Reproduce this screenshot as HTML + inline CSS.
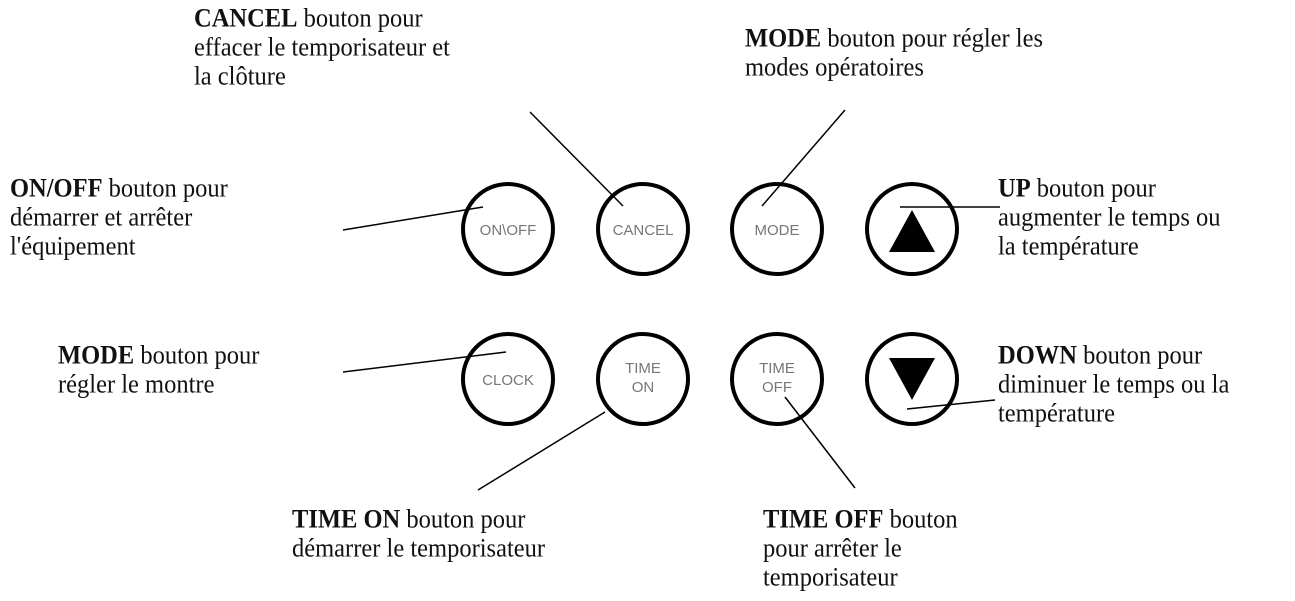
<!DOCTYPE html>
<html><head><meta charset="utf-8"><style>
html,body{margin:0;padding:0;background:#fff;}
body{width:1295px;height:601px;position:relative;overflow:hidden;font-family:"Liberation Serif",serif;color:#111;}
.t{position:absolute;font-size:24.5px;line-height:27px;white-space:nowrap;transform:scaleY(1.07);transform-origin:top left;}
.t b{font-weight:bold;}
svg{position:absolute;left:0;top:0;}
.bl{font-family:"Liberation Sans",sans-serif;font-size:15px;fill:#777;text-anchor:middle;}
</style></head><body>
<svg width="1295" height="601">
<g fill="none" stroke="#000" stroke-width="4">
<circle cx="508" cy="229" r="45"/><circle cx="643" cy="229" r="45"/><circle cx="777" cy="229" r="45"/><circle cx="912" cy="229" r="45"/>
<circle cx="508" cy="379" r="45"/><circle cx="643" cy="379" r="45"/><circle cx="777" cy="379" r="45"/><circle cx="912" cy="379" r="45"/>
</g>
<polygon points="912,210 889,252 935,252" fill="#000"/>
<polygon points="889,358 935,358 912,400" fill="#000"/>
<text class="bl" x="508" y="235">ON\OFF</text>
<text class="bl" x="643" y="235">CANCEL</text>
<text class="bl" x="777" y="235">MODE</text>
<text class="bl" x="508" y="385">CLOCK</text>
<text class="bl" x="643" y="373">TIME</text><text class="bl" x="643" y="392">ON</text>
<text class="bl" x="777" y="373">TIME</text><text class="bl" x="777" y="392">OFF</text>
<g stroke="#000" stroke-width="1.5">
<line x1="343" y1="230" x2="483" y2="207"/>
<line x1="530" y1="112" x2="623" y2="206"/>
<line x1="845" y1="110" x2="762" y2="206"/>
<line x1="900" y1="207" x2="1000" y2="207"/>
<line x1="343" y1="372" x2="506" y2="352"/>
<line x1="605" y1="412" x2="478" y2="490"/>
<line x1="785" y1="397" x2="855" y2="488"/>
<line x1="907" y1="409" x2="995" y2="400"/>
</g>
</svg>
<div class="t" style="left:194px;top:4px"><b>CANCEL</b> bouton pour<br>effacer le temporisateur et<br>la clôture</div>
<div class="t" style="left:745px;top:24px"><b>MODE</b> bouton pour régler les<br>modes opératoires</div>
<div class="t" style="left:10px;top:174px"><b>ON/OFF</b> bouton pour<br>démarrer et arrêter<br>l'équipement</div>
<div class="t" style="left:998px;top:174px"><b>UP</b> bouton pour<br>augmenter le temps ou<br>la température</div>
<div class="t" style="left:58px;top:341px"><b>MODE</b> bouton pour<br>régler le montre</div>
<div class="t" style="left:998px;top:341px"><b>DOWN</b> bouton pour<br>diminuer le temps ou la<br>température</div>
<div class="t" style="left:292px;top:505px"><b>TIME ON</b> bouton pour<br>démarrer le temporisateur</div>
<div class="t" style="left:763px;top:505px"><b>TIME OFF</b> bouton<br>pour arrêter le<br>temporisateur</div>
</body></html>
